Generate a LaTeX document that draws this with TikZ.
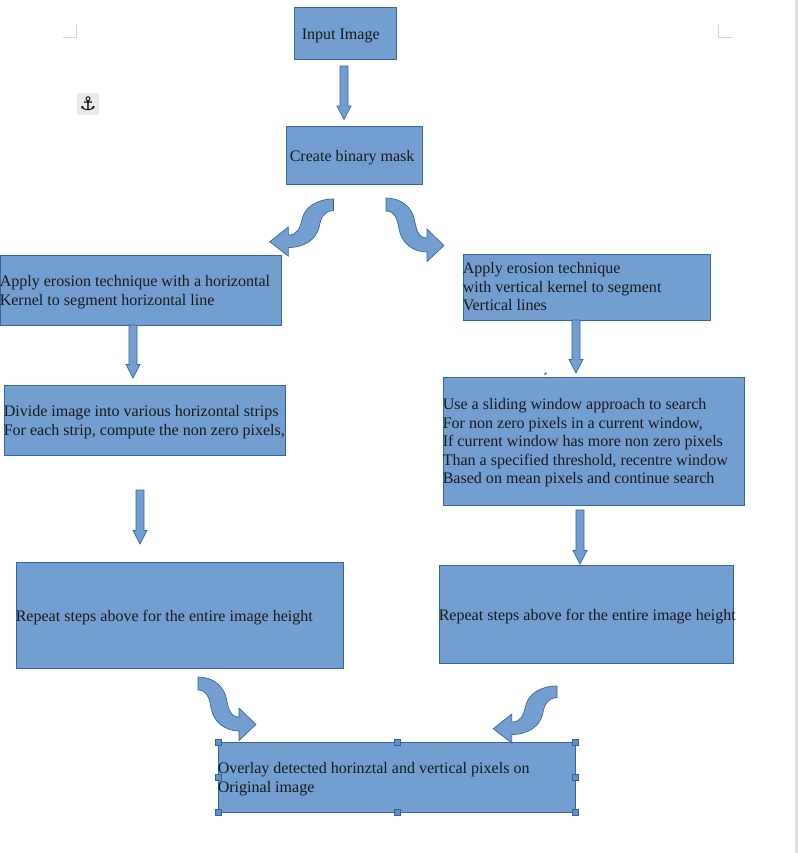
\documentclass[tikz,border=0pt]{standalone}
\usepackage{fontspec}
\setmainfont{Liberation Serif}
\newfontfamily\symfont{DejaVu Sans}
\definecolor{boxfill}{HTML}{729FCF}
\definecolor{boxline}{HTML}{3465A4}
\definecolor{cropgray}{HTML}{D4D4D4}
\tikzset{
  flowbox/.style={draw=boxline,fill=boxfill,line width=0.6pt,inner sep=0pt,outer sep=0pt,rectangle},
  flowtext/.style={anchor=west,inner sep=0pt,align=left,font=\fontsize{12.03pt}{13.85pt}\selectfont,text=black!90},
  blockarrow/.style={draw=boxline,fill=boxfill,line width=0.5pt,line join=miter},
  handle/.style={draw=boxline,fill=boxfill!75!boxline,line width=0.6pt,rectangle,inner sep=0pt,outer sep=0pt,minimum size=4.6pt},
  cropmark/.style={draw=cropgray,line width=0.8pt}
}
% name, x1,y1,x2,y2, text x, text centre y, text
\newcommand{\flowrect}[8]{%
  \node[flowbox,anchor=north west,minimum width=#4*0.75pt-#2*0.75pt,minimum height=#5*0.75pt-#3*0.75pt] (#1) at (#2,#3) {};
  \node[flowtext] (#1t) at (#6-1,#7+2) {#8};
}
% x centre, y top, y tip
\newcommand{\straightblock}[3]{%
  \draw[blockarrow] (#1-4,#2) -- (#1+4,#2) -- (#1+4,#3-13.5) -- (#1+7,#3-13.5) -- (#1,#3) -- (#1-7,#3-13.5) -- (#1-4,#3-13.5) -- cycle;
}
% origin x, origin y, xscale, yscale (unit shape 58 x 63 px going right and down)
\newcommand{\curvyblock}[4]{%
  \begin{scope}[shift={(#1,#2)},xscale=#3,yscale=#4]
  \draw[blockarrow] (0,0) .. controls (15,0) and (26,9) .. (28.5,22)
     .. controls (30.5,33) and (33,40) .. (41,40)
     -- (41,31) -- (58,47.5) -- (41,63.5) -- (41,54)
     .. controls (27,54) and (15.5,45) .. (13,31)
     .. controls (11.5,20) and (8,13) .. (0,13) -- cycle;
  \end{scope}
}
\begin{document}
\begin{tikzpicture}[x=0.75pt,y=-0.75pt]
\useasboundingbox (0,0) rectangle (798,853);
\fill[white] (0,0) rectangle (798,853);
\fill[black!12] (794.5,0) rectangle (798,853);
% crop marks
\draw[cropmark] (63,37.5) -- (76.5,37.5) -- (76.5,24);
\draw[cropmark] (732,37.5) -- (718.5,37.5) -- (718.5,24);
% anchor
\node[fill=black!8,minimum size=16.5pt,inner sep=0pt] (anchor) at (88,104) {\symfont\fontsize{14pt}{14pt}\selectfont ⚓};
% boxes
\flowrect{input}{294.5}{7.5}{396.5}{59.5}{302.5}{33.5}{Input Image}
\flowrect{mask}{286.5}{126.5}{422.5}{184.5}{290.5}{155.5}{Create binary mask}
\flowrect{erodeh}{0.3}{255.5}{281.5}{325.5}{0.5}{290}{Apply erosion technique with a horizontal\\Kernel to segment horizontal line}
\flowrect{erodev}{463}{254}{710.5}{320}{463.5}{285}{Apply erosion technique\\with vertical kernel to segment\\Vertical lines}
\flowrect{divide}{4}{385.5}{285.5}{455.5}{4.5}{420}{Divide image into various horizontal strips\\For each strip, compute the non zero pixels,}
\flowrect{slide}{443.5}{377.5}{744.5}{505.5}{443.5}{441}{Use a sliding window approach to search\\For non zero pixels in a current window,\\If current window has more non zero pixels\\Than a specified threshold, recentre window\\Based on mean pixels and continue search}
\flowrect{repl}{16}{562}{343.5}{668.5}{16.5}{615.5}{Repeat steps above for the entire image height}
\flowrect{repr}{439}{565.5}{733.5}{663.5}{439.5}{614.5}{Repeat steps above for the entire image height}
\flowrect{overlay}{218.5}{742}{575.5}{812}{218.5}{777}{Overlay detected horinztal and vertical pixels on\\Original image}
% straight arrows
\straightblock{344}{66}{119.5}
\straightblock{133}{325}{378}
\straightblock{140}{490}{544}
\straightblock{576}{320}{373}
\straightblock{580}{510}{564}
% curved arrows
\curvyblock{386}{198}{1}{1}
\curvyblock{333.5}{199}{-1.1}{0.9}
\curvyblock{198}{677}{1}{1}
\curvyblock{557}{686}{-1.1}{0.9}
% selection handles
\foreach \a/\n in {north west/a,north/b,north east/c,west/d,east/e,south west/f,south/g,south east/h}{
  \node[handle] (h\n) at (overlay.\a) {};
}
% stray mark
\draw[boxline,line width=1pt] (544.5,374.5) -- (546.5,372.8);
\end{tikzpicture}
\end{document}
